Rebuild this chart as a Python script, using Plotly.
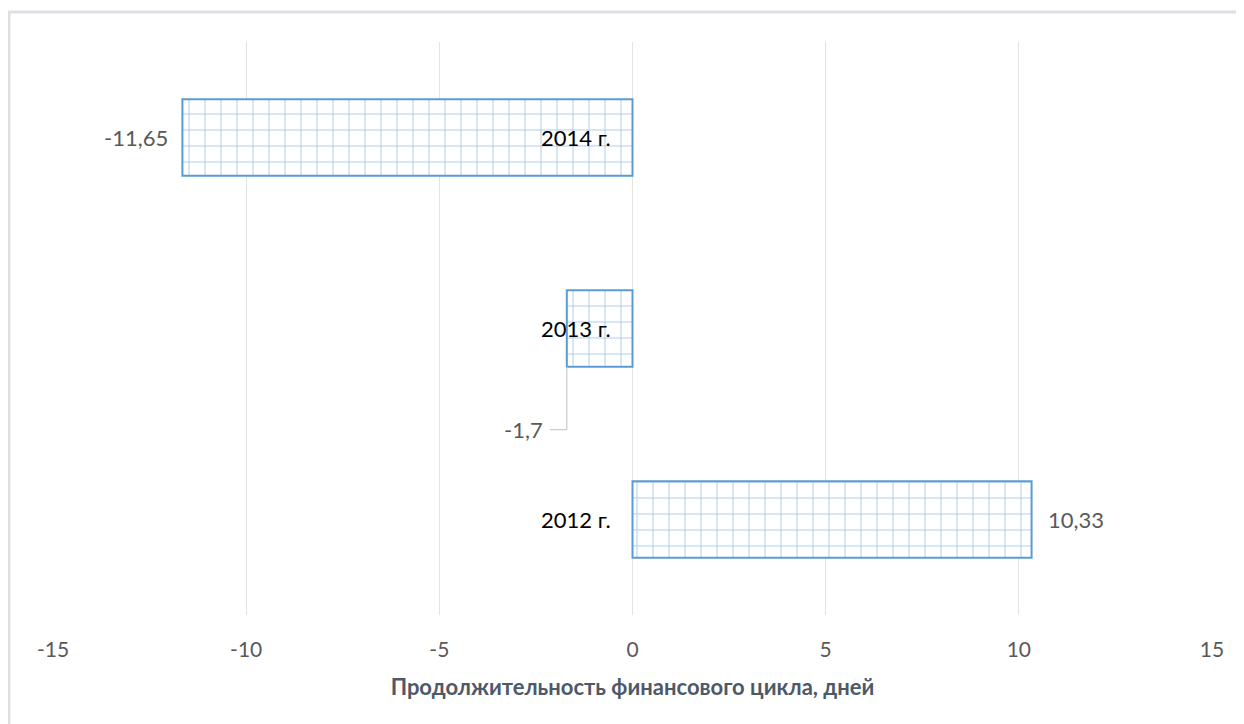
import plotly.graph_objects as go

categories = ["2012 г.", "2013 г.", "2014 г."]
values = [10.33, -1.7, -11.65]
tick_vals = [-15, -10, -5, 0, 5, 10, 15]
x_title = "Продолжительность финансового цикла, дней"

BLUE = "#5B9BD5"
GRAY_TXT = "#595959"
FONT = "Lato"

# page body has an 8px margin; figure sized so the plot lands where the reference has it
W, H = 1236, 716
L, R, T, B = 45, 32, 34, 109

fig = go.Figure()
fig.add_trace(go.Bar(
    y=categories, x=values, orientation="h", width=0.4,
    marker=dict(color="white", line=dict(color=BLUE, width=2),
                pattern=dict(shape="+", fgcolor=BLUE, bgcolor="white",
                             size=16, solidity=0.12)),
    hoverinfo="skip", showlegend=False,
))

def fmt(v):
    s = f"{v:g}"
    return s.replace(".", ",")

# category labels near the zero axis
for c in categories:
    fig.add_annotation(x=0, y=c, xref="x", yref="y", text=c, showarrow=False,
                       xanchor="right", xshift=-20,
                       font=dict(family=FONT, size=22, color="black"))

# value labels
for i, (c, v) in enumerate(zip(categories, values)):
    if abs(v) < 3:
        ylab = i - 0.53
        fig.add_annotation(x=v, y=ylab, xref="x", yref="y", text=fmt(v),
                           showarrow=False, xanchor="right", xshift=-22,
                           font=dict(family=FONT, size=22, color=GRAY_TXT))
        fig.add_shape(type="line", xref="x", yref="y", x0=v, x1=v,
                      y0=ylab, y1=i - 0.2, line=dict(color="#BFBFBF", width=1))
        fig.add_shape(type="line", xref="x", yref="y", xsizemode="pixel",
                      xanchor=v, x0=-17, x1=0, y0=ylab, y1=ylab,
                      line=dict(color="#BFBFBF", width=1))
    else:
        fig.add_annotation(x=v, y=c, xref="x", yref="y", text=fmt(v),
                           showarrow=False,
                           xanchor="left" if v > 0 else "right",
                           xshift=14 if v > 0 else -12,
                           font=dict(family=FONT, size=22, color=GRAY_TXT))

# chart frame border
PW, PH = W - L - R, H - T - B
fig.add_shape(type="rect", xref="paper", yref="paper",
              x0=(1 - L) / PW, x1=(W + 20 - L) / PW,
              y0=-(B + 20) / PH, y1=(H - B - 4) / PH,
              line=dict(color="#DCDFE4", width=3), fillcolor="rgba(0,0,0,0)",
              layer="below")

fig.update_layout(
    width=W, height=H,
    margin=dict(l=L, r=R, t=T, b=B),
    paper_bgcolor="white", plot_bgcolor="white",
    font=dict(family=FONT, size=21, color=GRAY_TXT),
    xaxis=dict(range=[-15, 15], tickvals=tick_vals,
               ticktext=[str(t) for t in tick_vals],
               showgrid=True, gridcolor="#E3E3E3", gridwidth=1,
               zeroline=False, showline=False, ticks="",
               ticklabelstandoff=20,
               tickfont=dict(family=FONT, size=21, color=GRAY_TXT),
               title=dict(text="<b>" + x_title + "</b>", standoff=19,
                          font=dict(family=FONT, size=22, color="#4E5968"))),
    yaxis=dict(categoryorder="array", categoryarray=categories,
               range=[-0.5, 2.5], showticklabels=False, showgrid=False,
               zeroline=False, showline=False),
)

fig.write_html("out.html")
